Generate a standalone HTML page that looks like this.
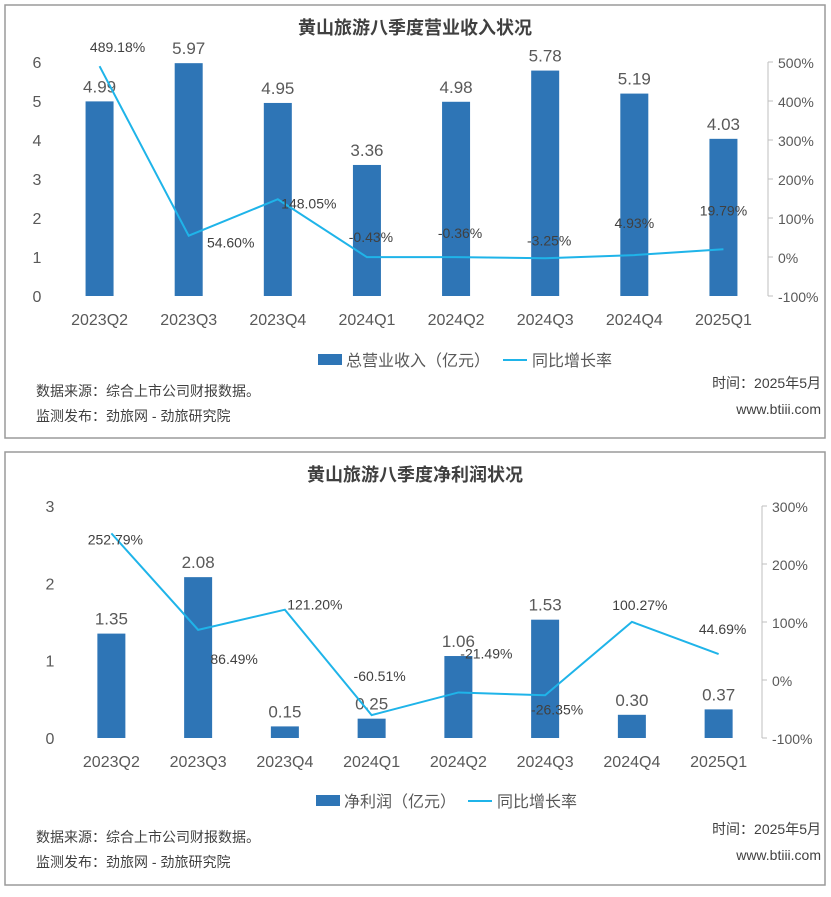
<!DOCTYPE html>
<html><head><meta charset="utf-8">
<style>
body{margin:0;width:831px;height:892px;background:#fff;font-family:"Liberation Sans","Noto Sans CJK SC",sans-serif;}
svg text{font-family:"Liberation Sans","Noto Sans CJK SC",sans-serif;}
</style></head>
<body>
<svg id="s" width="831" height="892"></svg>
<script>
const categories=["2023Q2","2023Q3","2023Q4","2024Q1","2024Q2","2024Q3","2024Q4","2025Q1"];
const revenueValues=[4.99,5.97,4.95,3.36,4.98,5.78,5.19,4.03];
const revenueGrowth=[489.18,54.60,148.05,-0.43,-0.36,-3.25,4.93,19.79];
const profitValues=[1.35,2.08,0.15,0.25,1.06,1.53,0.30,0.37];
const profitGrowth=[252.79,86.49,121.20,-60.51,-21.49,-26.35,100.27,44.69];
const revLeftTicks=[0,1,2,3,4,5,6];
const revRightTicks=[-100,0,100,200,300,400,500];
const profLeftTicks=[0,1,2,3];
const profRightTicks=[-100,0,100,200,300];

const NS="http://www.w3.org/2000/svg";
const svg=document.getElementById('s');
function mk(tag,attrs,parent,txt){const e=document.createElementNS(NS,tag);for(const k in attrs)e.setAttribute(k,attrs[k]);if(txt!==undefined)e.textContent=txt;(parent||svg).appendChild(e);return e;}

function chart(o){
  const g=mk('g',{});
  
  
  const panel=mk('rect',{x:o.px,y:o.py,width:o.pw,height:o.ph,fill:'#fff',stroke:'#9a9a9a','stroke-width':1.5},g);
  
  
  const t=mk('text',{x:415,y:o.titleY,'text-anchor':'middle','font-size':18,'font-weight':'bold',fill:'#404040'},g,o.title);
  
  
  const x0=o.x0,x1=o.x1,step=(x1-x0)/categories.length;
  const cx=i=>x0+step*(i+0.5);
  const yL=v=>o.yb-(v-o.lmin)/(o.lmax-o.lmin)*(o.yb-o.yt);
  const yR=v=>o.yb-(v-o.rmin)/(o.rmax-o.rmin)*(o.yb-o.yt);
  const ax=mk('line',{x1:x1,x2:x1,y1:o.yt,y2:o.yb,stroke:'#bfbfbf'},g);
  
  
  o.lt.forEach(v=>{const e=mk('text',{x:o.lx,y:yL(v)+6,'text-anchor':'middle','font-size':16,fill:'#595959'},g,v);
    
    });
  o.rt.forEach(v=>{const e=mk('text',{x:x1+10,y:yR(v)+6,'font-size':14,fill:'#595959'},g,v+'%');
    
    
    mk('line',{x1:x1,x2:x1+5,y1:yR(v),y2:yR(v),stroke:'#bfbfbf'},g);});
  categories.forEach((c,i)=>{const e=mk('text',{x:cx(i),y:o.yb+29,'text-anchor':'middle','font-size':16,fill:'#595959'},g,c);
    
    });
  o.bars.forEach((v,i)=>{
    const b=mk('rect',{x:cx(i)-14,y:yL(v),width:28,height:yL(0)-yL(v),fill:'#2E75B6'},g);
    
    
    const l=mk('text',{x:cx(i),y:yL(v)-9,'text-anchor':'middle','font-size':17,fill:'#595959'},g,v.toFixed(2));
    
    
  });
  const pts=o.line.map((v,i)=>cx(i)+','+yR(v)).join(' ');
  const pl=mk('polyline',{points:pts,fill:'none',stroke:'#1FB4E9','stroke-width':2},g);
  
  
  o.line.forEach((v,i)=>{
    const l=mk('text',{x:cx(i)+o.ldx[i],y:yR(v)+o.ldy[i],'text-anchor':'middle','font-size':14,fill:'#404040'},g,v.toFixed(2)+'%');
    
    
  });
  const lr=mk('rect',{x:o.legX,y:o.legY-7,width:24,height:11,fill:'#2E75B6'},g);
  
  
  const lt1=mk('text',{x:o.legX+28,y:o.legY+5,'font-size':16,fill:'#595959'},g,o.legBar);
  
  
  const lx=o.legX+o.legOff;
  const ll=mk('line',{x1:lx,x2:lx+24,y1:o.legY-1,y2:o.legY-1,stroke:'#1FB4E9','stroke-width':2},g);
  
  
  const lt2=mk('text',{x:lx+29,y:o.legY+5,'font-size':16,fill:'#595959'},g,'同比增长率');
  
  
  const f1=mk('text',{x:36,y:o.fy1,'font-size':14,fill:'#404040'},g,'数据来源：综合上市公司财报数据。');
  
  
  const f2=mk('text',{x:36,y:o.fy2,'font-size':14,fill:'#404040'},g,'监测发布：劲旅网 - 劲旅研究院');
  
  
  const f3=mk('text',{x:821,y:o.fy1-8,'text-anchor':'end','font-size':14,fill:'#404040'},g,'时间：2025年5月');
  
  
  const f4=mk('text',{x:821,y:o.fy2-7,'text-anchor':'end','font-size':14,fill:'#404040'},g,'www.btiii.com');
  
  
}

chart({name:'revenue-chart',px:5,py:5,pw:820,ph:433,title:'黄山旅游八季度营业收入状况',titleY:34,
  x0:55,x1:768,yt:62,yb:296,lmin:0,lmax:6,rmin:-100,rmax:500,lx:37,lt:revLeftTicks,rt:revRightTicks,
  bars:revenueValues,line:revenueGrowth,
  ldx:[18,42,31,4,4,4,0,0],ldy:[-14,12,9,-15,-19,-13,-27,-34],
  legX:318,legY:361,legBar:'总营业收入（亿元）',legOff:185,fy1:396,fy2:421});

chart({name:'net-profit-chart',px:5,py:452,pw:820,ph:433,title:'黄山旅游八季度净利润状况',titleY:481,
  x0:68,x1:762,yt:506,yb:738,lmin:0,lmax:3,rmin:-100,rmax:300,lx:50,lt:profLeftTicks,rt:profRightTicks,
  bars:profitValues,line:profitGrowth,
  ldx:[4,36,30,8,28,12,8,4],ldy:[11,34,0,-34,-34,19,-12,-20],
  legX:316,legY:802,legBar:'净利润（亿元）',legOff:152,fy1:842,fy2:867});
</script>
</body></html>
